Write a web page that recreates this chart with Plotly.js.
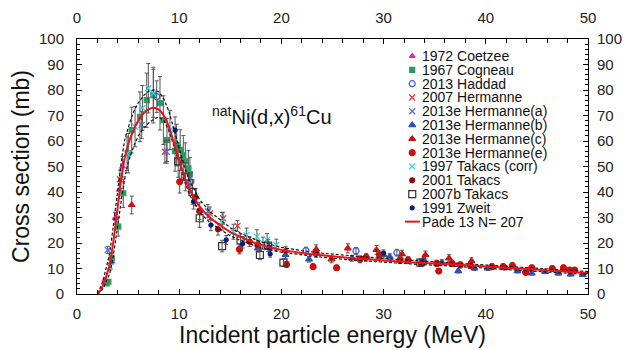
<!DOCTYPE html>
<html>
<head>
<meta charset="utf-8">
<script src="https://cdn.plot.ly/plotly-3.0.1.min.js"></script>
<style>html,body{margin:0;padding:0;background:#fff}#chart{width:632px;height:350px}</style>
</head>
<body>
<div id="chart"></div>
<script>
// ---- Pade fit and its confidence band ----
const fitE = [2.0,2.3,2.6,2.9,3.2,3.5,3.8,4.1,4.4,4.7,5.0,5.3,5.6,6.0,6.5,7.0,7.5,8.0,8.5,9.0,9.5,10,10.5,11,11.5,12,13,14,15,16,17,18,20,22,24,26,28,30,33,36,40,44,47,50];
const fitS = [0,1.5,4,7.5,11.5,19,28,38,47,54,58.5,62,65,68,70.8,72.4,73,72.3,70,65.5,59,52.5,46,41,37.5,34.3,30,27,24.3,22.4,20.7,19.2,17.3,16.1,15.2,14.4,13.8,13.1,12.4,11.8,10.8,9.8,9.0,8.2];
const fitUpper = [0.2,2.5,6,10.5,16,25,35,45,54,61,65.5,69,72,75,77.8,79.5,80,79.3,76.5,71.5,64.5,57,50,44.5,40.5,37,32.3,29,26,23.8,22,20.4,18.3,17,16,15.2,14.6,13.9,13.1,12.5,11.4,10.4,9.6,8.8];
const fitLower = [0,0.8,2.5,5,8,13.5,21,30,38.5,46,51.5,55.5,58.5,62,65,67,68.5,69.5,68,64,58,51.5,44.5,39,35.5,32,28,25.3,22.8,21,19.5,18.1,16.4,15.3,14.4,13.6,13,12.4,11.7,11.1,10.2,9.2,8.4,7.6];

// ---- experimental data (energy MeV, cross section mb) ----
const coetzeeE = [2.74,3.4,3.72,4.14,4.45];
const coetzeeS = [5.5,12.7,29.7,40.8,49.9];
const cogneauE = [2.9,3.07,3.4,4.04,4.53,5.02,5.35,6.16,6.82,7.47,8.12,8.45,8.8,9.6,9.75,10.1,10.4,10.6,10.9,11.05];
const cogneauS = [4.2,4.8,14,26.4,39.5,55.2,64.3,69.5,76,78,74.8,68.2,60.4,56,58.4,56.5,54.5,52,49.3,47];
const haddadE = [7.8,11.15,22.4,27.3,31.3];
const haddadS = [77.4,44,17,16.9,16.2];
const hermanne07E = [4.2,8.6,13.0,14.3,15.7];
const hermanne07S = [45,55.8,31.6,29.7,26.7];
const hermAE = [3.0,6.33,8.78,12.8];
const hermAS = [17.3,66.3,55.8,32.5];
const hermBE = [17.7,20.4,22.7,26.9,30.0,30.6,33.9,35.7,37.3,38.9,40.2,41.9,43.1,44.5,45.8,47.1,48.3,49.5];
const hermBS = [17.9,15.3,13.6,14,15.3,14.6,13.3,12.4,9,10,10,10.2,9,8.1,8.7,8.1,7.7,7.5];
const hermCE = [5.35,20.4,23.4,24.9,26.5,29.3,31.8,34.1,36.4,38.6];
const hermCS = [34.9,17,17.5,13.6,17.9,17.3,15.6,15.3,14,12.9];
const hermEE = [10.05,12,15.9,17.7,20.5,23.1,23.4,25.4,27.7,28.3,29.6,31.6,32.4,33.7,35.2,35.4,36.7,37.5,38.5,40.6,41.7,42.6,43.9,44.5,46.5,47.6,48.2,48.7];
const hermES = [44,32.5,17.5,19.2,11.6,10.7,16,10.3,13.6,14.4,15.3,13.3,13.3,12,12,9,12,11.4,11.1,10.7,10.7,11.1,8.5,10.3,10,10.3,9.4,9.4];
const takacs97E = [3.23,4.9,5.68,6.4,6.98,7.47,9.1,14.2,15.3,16.6,17.6,18.2,18.6,19.5];
const takacs97S = [10.7,55,65.6,73,80.7,78.7,64.3,28.5,24.4,23.1,22.5,19.9,21.2,19.2];
const takacs01E = [11.6,13.8,16.9];
const takacs01S = [38,25.4,20.5];
const takacs07E = [9.9,10.6,11.3,12,14.2,16,17.9,18.7,20.2,33.6];
const takacs07S = [52,46,40,29.7,18.8,21,15.3,19,12.3,12.3];
const zweitE = [9.6,11.4,13.1,14.6,16.2,18.8,18.9,30.0];
const zweitS = [64.3,36.2,27,21.2,19.6,18.3,15.7,16];

const seriesNames = ['1972 Coetzee','1967 Cogneau','2013 Haddad','2007 Hermanne','2013e Hermanne(a)','2013e Hermanne(b)','2013e Hermanne(c)','2013e Hermanne(e)','1997 Takacs (corr)','2001 Takacs','2007b Takacs','1991 Zweit'];
const fitName = 'Pade 13 N= 207';
const title = '<sup>nat</sup>Ni(d,x)<sup>61</sup>Cu';

const seriesData = [
  [coetzeeE, coetzeeS], [cogneauE, cogneauS], [haddadE, haddadS], [hermanne07E, hermanne07S],
  [hermAE, hermAS], [hermBE, hermBS], [hermCE, hermCS], [hermEE, hermES],
  [takacs97E, takacs97S], [takacs01E, takacs01S], [takacs07E, takacs07S], [zweitE, zweitS]
];
const styles = [
  {symbol:'triangle-up', color:'#e020c8', size:5, err:8},
  {symbol:'square', color:'#2e9a5e', size:5, err:14},
  {symbol:'circle-open', color:'#3a58e0', size:6, err:8},
  {symbol:'x-thin-open', color:'#ee3030', size:6, err:8},
  {symbol:'x-thin-open', color:'#5070e0', size:6, err:8},
  {symbol:'triangle-up', color:'#2b4fb5', size:6, err:8},
  {symbol:'triangle-up', color:'#cc1010', size:6, err:10},
  {symbol:'circle', color:'#cc1010', size:6, err:10},
  {symbol:'x-thin-open', color:'#30d0e0', size:6, err:12},
  {symbol:'circle', color:'#8b0a0a', size:5, err:9},
  {symbol:'square-open', color:'#333333', size:7, err:12},
  {symbol:'circle', color:'#0a1a8a', size:4, err:8}
];

const FONT = 'Liberation Sans, Arial, sans-serif';
const traces = [];
seriesData.forEach((d, i) => {
  const s = styles[i];
  traces.push({
    type:'scatter', mode:'markers', name:seriesNames[i], x:d[0], y:d[1],
    marker:{symbol:s.symbol, color:s.color, size:s.size, line:{color:s.color, width:1.2}},
    error_y:{type:'percent', value:s.err, color:'#555', thickness:1, width:2},
    showlegend:false
  });
});
traces.push({type:'scatter', mode:'lines', x:fitE, y:fitUpper, line:{color:'#111', width:1.2, dash:'3px,2px'}, showlegend:false});
traces.push({type:'scatter', mode:'lines', x:fitE, y:fitLower, line:{color:'#111', width:1.2, dash:'3px,2px'}, showlegend:false});
traces.push({type:'scatter', mode:'lines', name:fitName, x:fitE, y:fitS, line:{color:'#e8141c', width:2, shape:'spline'}, showlegend:false});
// empty trace for top/right label axes
traces.push({type:'scatter', mode:'markers', x:[null], y:[null], xaxis:'x2', yaxis:'y2', showlegend:false, hoverinfo:'skip'});

// ---- custom compact legend ----
const legY0 = 0.933, legDy = 0.0541, legMX = 0.656, legTX = 0.673;
const annotations = [];
seriesNames.forEach((n, i) => {
  const s = styles[i];
  const yy = legY0 - i*legDy;
  traces.push({type:'scatter', mode:'markers', x:[legMX], y:[yy], xaxis:'x3', yaxis:'y3',
    marker:{symbol:s.symbol, color:s.color, size:s.size, line:{color:s.color, width:1.2}},
    showlegend:false, hoverinfo:'skip'});
  annotations.push({xref:'paper', yref:'paper', x:legTX, y:yy, xanchor:'left', yanchor:'middle', borderpad:0,
    text:n, showarrow:false, font:{family:FONT, size:14, color:'#111'}});
});
const fitRow = legY0 - seriesNames.length*legDy;
traces.push({type:'scatter', mode:'lines', x:[0.642, 0.671], y:[fitRow, fitRow], xaxis:'x3', yaxis:'y3',
  line:{color:'#e8141c', width:2}, showlegend:false, hoverinfo:'skip'});
annotations.push({xref:'paper', yref:'paper', x:legTX, y:fitRow, xanchor:'left', yanchor:'middle', borderpad:0,
  text:fitName, showarrow:false, font:{family:FONT, size:14, color:'#111'}});
annotations.push({xref:'paper', yref:'paper', x:0.26, y:0.70, xanchor:'left', yanchor:'middle',
  text:title, showarrow:false, font:{family:FONT, size:20, color:'#111'}});

const tickFont = {family:FONT, size:15, color:'#222'};
const layout = {
  width:632, height:350,
  margin:{l:77, r:44, t:39, b:56},
  paper_bgcolor:'#fff', plot_bgcolor:'#fff',
  font:{family:FONT},
  showlegend:false,
  xaxis:{range:[0,50], dtick:10, tick0:0, ticks:'inside', ticklen:5, tickcolor:'#000', tickwidth:1,
    showline:true, linecolor:'#000', linewidth:1, mirror:'allticks', showgrid:false, zeroline:false,
    tickfont:tickFont, ticklabelstandoff:6, minor:{dtick:2, ticks:'inside', ticklen:4, tickcolor:'#000'},
    title:{text:'Incident particle energy (MeV)', font:{family:FONT, size:23, color:'#111'}, standoff:2}},
  yaxis:{range:[0,100], dtick:10, tick0:0, ticks:'inside', ticklen:5, tickcolor:'#000', tickwidth:1,
    showline:true, linecolor:'#000', linewidth:1, mirror:'allticks', showgrid:false, zeroline:false,
    tickfont:tickFont, ticklabelstandoff:9, minor:{dtick:2, ticks:'inside', ticklen:3, tickcolor:'#000'},
    title:{text:'Cross section (mb)', font:{family:FONT, size:23, color:'#111'}, standoff:2}},
  xaxis2:{overlaying:'x', side:'top', anchor:'y2', range:[0,50], dtick:10, tick0:0, ticks:'', showline:false,
    showgrid:false, zeroline:false, tickfont:tickFont, ticklabelstandoff:12},
  yaxis2:{overlaying:'y', side:'right', anchor:'x2', range:[0,100], dtick:10, tick0:0, ticks:'', showline:false,
    showgrid:false, zeroline:false, tickfont:tickFont, ticklabelstandoff:8},
  xaxis3:{overlaying:'x', anchor:'y3', range:[0,1], visible:false, fixedrange:true},
  yaxis3:{overlaying:'y', anchor:'x3', range:[0,1], visible:false, fixedrange:true},
  annotations:annotations
};
Plotly.newPlot('chart', traces, layout, {staticPlot:true, displayModeBar:false});
</script>
</body>
</html>
